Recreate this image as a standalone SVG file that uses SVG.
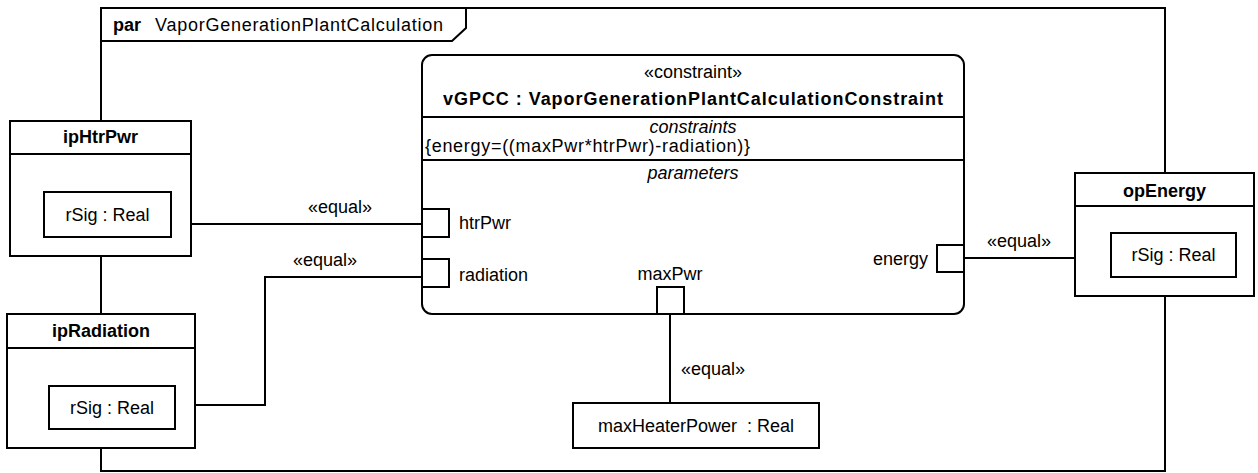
<svg xmlns="http://www.w3.org/2000/svg" width="1258" height="473" viewBox="0 0 1258 473">
<style>
.ln{fill:none;stroke:#000;stroke-width:2}
.bx{fill:#fff;stroke:#000;stroke-width:2}
.t{font-family:"Liberation Sans",Arial,sans-serif;font-size:18px;fill:#000}
.b{font-weight:bold}
.i{font-style:italic}
.m{text-anchor:middle}
.e{text-anchor:end}
</style>
<rect width="1258" height="473" fill="#fff"/>
<g id="frame">
<rect class="ln" x="101" y="8" width="1064" height="463"/>
<polyline class="ln" points="101,41 452,41 466,28 466,8"/>
<text class="t" x="113" y="31"><tspan class="b">par</tspan>  <tspan x="155" textLength="288">VaporGenerationPlantCalculation</tspan></text>
</g>
<g id="connectors">
<polyline class="ln" points="171,224 422,224"/>
<polyline class="ln" points="175,405 265,405 265,277 422,277"/>
<polyline class="ln" points="964,258 1111,258"/>
<polyline class="ln" points="670,314 670,403"/>
<text class="t" x="308" y="213" textLength="64">«equal»</text>
<text class="t" x="293" y="266" textLength="64">«equal»</text>
<text class="t" x="987" y="247" textLength="64">«equal»</text>
<text class="t" x="681" y="375" textLength="64">«equal»</text>
</g>
<g id="ipHtrPwr">
<rect class="bx" x="10" y="121" width="181" height="135"/>
<line class="ln" x1="10" y1="154" x2="191" y2="154"/>
<text class="t b m" x="100.5" y="143">ipHtrPwr</text>
<rect class="bx" x="44" y="192" width="127" height="45"/>
<text class="t m" x="107.5" y="221">rSig : Real</text>
</g>
<g id="ipRadiation">
<rect class="bx" x="7" y="314" width="188" height="134"/>
<line class="ln" x1="7" y1="348" x2="195" y2="348"/>
<text class="t b m" x="101" y="337">ipRadiation</text>
<rect class="bx" x="49" y="386" width="126" height="43"/>
<text class="t m" x="112" y="414">rSig : Real</text>
</g>
<g id="opEnergy">
<rect class="bx" x="1075" y="173" width="179" height="123"/>
<line class="ln" x1="1075" y1="206" x2="1254" y2="206"/>
<text class="t b m" x="1164.5" y="197">opEnergy</text>
<rect class="bx" x="1111" y="233" width="125" height="44"/>
<text class="t m" x="1173.5" y="261">rSig : Real</text>
</g>
<g id="vGPCC">
<rect class="bx" x="422" y="55" width="542" height="259" rx="10" ry="10"/>
<line class="ln" x1="422" y1="117" x2="964" y2="117"/>
<line class="ln" x1="422" y1="160" x2="964" y2="160"/>
<text class="t m" x="693" y="78">«constraint»</text>
<text class="t b m" x="693" y="105" textLength="500">vGPCC : VaporGenerationPlantCalculationConstraint</text>
<text class="t i m" x="693" y="133">constraints</text>
<text class="t" x="425" y="152" textLength="325">{energy=((maxPwr*htrPwr)-radiation)}</text>
<text class="t i m" x="693" y="179">parameters</text>
<rect class="bx" x="422" y="209" width="27" height="28"/>
<text class="t" x="459" y="229">htrPwr</text>
<rect class="bx" x="422" y="259" width="27" height="28"/>
<text class="t" x="459" y="281">radiation</text>
<rect class="bx" x="657" y="287" width="27" height="27"/>
<text class="t m" x="670" y="280">maxPwr</text>
<rect class="bx" x="937" y="245" width="27" height="27"/>
<text class="t e" x="928" y="265">energy</text>
</g>
<g id="maxHeaterPower">
<rect class="bx" x="573" y="403" width="246" height="45"/>
<text class="t m" x="696" y="432" xml:space="preserve">maxHeaterPower  : Real</text>
</g>
</svg>
